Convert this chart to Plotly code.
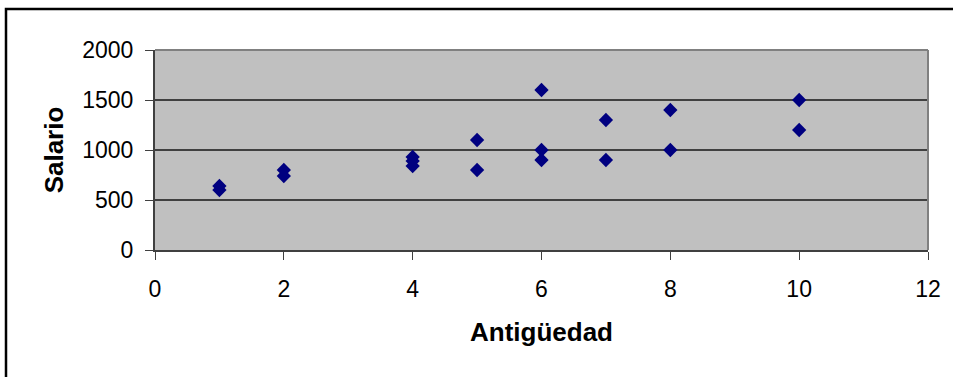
import plotly.graph_objects as go

antiguedad = [1, 1, 2, 2, 4, 4, 4, 5, 5, 6, 6, 6, 7, 7, 8, 8, 10, 10]
salario = [640, 600, 800, 740, 930, 890, 840, 1100, 800, 1600, 1000, 900, 1300, 900, 1400, 1000, 1500, 1200]
x_ticks = [0, 2, 4, 6, 8, 10, 12]
y_ticks = [0, 500, 1000, 1500, 2000]

FONT = "Liberation Sans, Arial, sans-serif"
DARK = "#404040"

fig = go.Figure()
fig.add_trace(go.Scatter(
    x=antiguedad, y=salario, mode="markers",
    marker=dict(symbol="diamond", size=11, color="#000080", line=dict(width=0)),
    showlegend=False, hoverinfo="x+y",
))

fig.update_layout(
    width=953, height=377,
    margin=dict(l=155, r=25, t=50, b=127),
    paper_bgcolor="white",
    plot_bgcolor="#C0C0C0",
    font=dict(family=FONT, color="black", size=23),
    xaxis=dict(
        range=[0, 12], tickvals=x_ticks, ticktext=[str(v) for v in x_ticks],
        showgrid=False, zeroline=False,
        showline=True, linecolor=DARK, linewidth=2,
        ticks="outside", ticklen=8, tickcolor=DARK, tickwidth=1,
        tickfont=dict(size=23), ticklabelstandoff=9,
        title=dict(text="<b>Antigüedad</b>", font=dict(size=26), standoff=22),
    ),
    yaxis=dict(
        range=[0, 2000], tickvals=y_ticks, ticktext=[str(v) for v in y_ticks],
        showgrid=True, gridcolor=DARK, gridwidth=2, zeroline=False,
        showline=True, linecolor=DARK, linewidth=2,
        ticks="outside", ticklen=8, tickcolor=DARK, tickwidth=1,
        tickfont=dict(size=23), ticklabelstandoff=7,
        title=dict(text="<b>Salario</b>", font=dict(size=26), standoff=11),
    ),
    shapes=[
        dict(type="line", xref="paper", yref="paper", x0=0, x1=1, y0=1, y1=1,
             line=dict(color="#808080", width=2), layer="above"),
        dict(type="line", xref="paper", yref="paper", x0=1, x1=1, y0=0, y1=1,
             line=dict(color="#808080", width=2), layer="above"),
        dict(type="rect", xref="paper", yref="paper",
             x0=(6 - 155) / 773, x1=(962 - 155) / 773,
             y0=(250 - 392) / 200, y1=(250 - 9) / 200,
             line=dict(color="black", width=2.5), fillcolor="rgba(0,0,0,0)", layer="above"),
    ],
)

fig.write_html("out.html")
